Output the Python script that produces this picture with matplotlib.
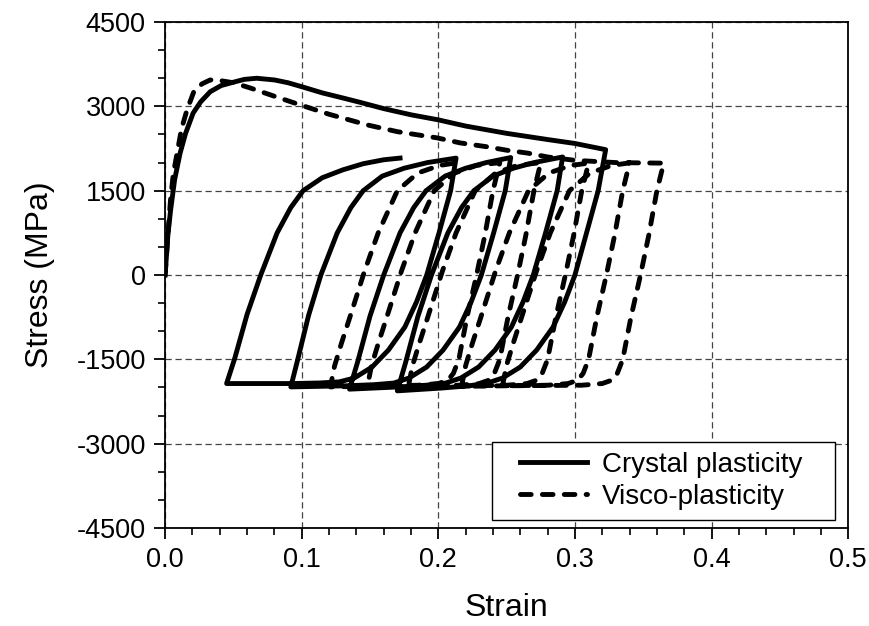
import matplotlib
matplotlib.use("Agg")
import matplotlib.pyplot as plt
from matplotlib.ticker import MultipleLocator, FormatStrFormatter
from matplotlib.patches import Rectangle

plt.rcParams['font.family'] = ['Liberation Sans', 'DejaVu Sans']
plt.rcParams['axes.unicode_minus'] = False

# crystal plasticity: monotonic loading then nested cycles (one path)
cp_strain = [0, 0.001, 0.002, 0.004, 0.007, 0.011, 0.015, 0.0205, 0.026, 0.033, 0.041, 0.05, 0.058, 0.067,
             0.08, 0.09, 0.1, 0.115, 0.13, 0.143, 0.16, 0.18, 0.2, 0.22, 0.25, 0.28, 0.3, 0.3225,
             0.317, 0.3085, 0.300, 0.2925, 0.284, 0.272, 0.260, 0.247, 0.236, 0.2225, 0.2025, 0.170,
             0.176, 0.185, 0.195, 0.207, 0.217, 0.226, 0.240, 0.255, 0.270, 0.291,
             0.287, 0.2785, 0.2695, 0.262, 0.2535, 0.2415, 0.2295, 0.2165, 0.2055, 0.191, 0.171, 0.135,
             0.141, 0.150, 0.160, 0.172, 0.182, 0.191, 0.205, 0.220, 0.235, 0.253,
             0.249, 0.2405, 0.2315, 0.224, 0.2155, 0.2035, 0.1915, 0.1785, 0.1675, 0.153, 0.133, 0.092,
             0.097, 0.105, 0.114, 0.126, 0.136, 0.145, 0.159, 0.175, 0.192, 0.213,
             0.209, 0.2005, 0.1915, 0.184, 0.1755, 0.1635, 0.1515, 0.1385, 0.1275, 0.113, 0.093, 0.07, 0.045,
             0.051, 0.060, 0.070, 0.082, 0.092, 0.101, 0.115, 0.130, 0.145, 0.16, 0.172]
cp_stress = [0, 350, 700, 1150, 1700, 2170, 2520, 2880, 3080, 3260, 3370, 3430, 3480, 3500,
             3470, 3420, 3350, 3240, 3150, 3070, 2960, 2850, 2760, 2650, 2520, 2410, 2340, 2230,
             1500, 750, 0, -480, -925, -1334, -1636, -1832, -1921, -1970, -2010, -2060,
             -1560, -740, 0, 750, 1200, 1500, 1760, 1900, 2000, 2100,
             1500, 750, 0, -480, -925, -1334, -1636, -1832, -1921, -1960, -1990, -2030,
             -1540, -730, 0, 750, 1200, 1500, 1760, 1900, 2000, 2090,
             1500, 750, 0, -480, -925, -1334, -1636, -1832, -1921, -1950, -1970, -1990,
             -1510, -720, 0, 750, 1200, 1500, 1760, 1900, 2000, 2080,
             1500, 750, 0, -480, -925, -1334, -1636, -1832, -1900, -1920, -1930, -1930, -1930,
             -1480, -700, 0, 750, 1200, 1500, 1730, 1870, 1980, 2050, 2080]

# visco-plasticity
vp_strain = [0, 0.001, 0.002, 0.004, 0.006, 0.0088, 0.012, 0.016, 0.021, 0.027, 0.033, 0.04, 0.05, 0.062,
             0.08, 0.099, 0.12, 0.148, 0.17, 0.199, 0.216, 0.236, 0.25, 0.265, 0.28, 0.3, 0.33, 0.365,
             0.360, 0.354, 0.348, 0.341, 0.335, 0.331, 0.327, 0.320, 0.305, 0.247,
             0.250, 0.255, 0.261, 0.267, 0.272, 0.282, 0.296, 0.311, 0.327, 0.340,
             0.335, 0.329, 0.323, 0.316, 0.310, 0.306, 0.302, 0.295, 0.280, 0.217,
             0.220, 0.225, 0.231, 0.237, 0.242, 0.252, 0.266, 0.281, 0.297, 0.310,
             0.305, 0.299, 0.293, 0.286, 0.280, 0.276, 0.272, 0.265, 0.250, 0.178,
             0.181, 0.186, 0.192, 0.198, 0.203, 0.213, 0.227, 0.242, 0.258, 0.275,
             0.270, 0.264, 0.258, 0.251, 0.245, 0.241, 0.237, 0.230, 0.215, 0.148,
             0.151, 0.156, 0.162, 0.168, 0.173, 0.183, 0.197, 0.212, 0.228, 0.245,
             0.240, 0.234, 0.228, 0.221, 0.215, 0.211, 0.207, 0.200, 0.185, 0.121,
             0.124, 0.129, 0.135, 0.141, 0.146, 0.156, 0.170, 0.185, 0.201, 0.212]
vp_stress = [0, 350, 700, 1350, 1800, 2170, 2600, 2935, 3260, 3400, 3470, 3460, 3420, 3330,
             3180, 3025, 2860, 2670, 2550, 2440, 2350, 2280, 2220, 2170, 2100, 2040, 2000, 1990,
             1500, 700, 0, -750, -1500, -1750, -1870, -1930, -1960, -1970,
             -1600, -1200, -750, -300, 80, 750, 1500, 1815, 1950, 1995,
             1500, 700, 0, -750, -1500, -1750, -1870, -1930, -1960, -1980,
             -1610, -1210, -760, -300, 80, 750, 1500, 1815, 1950, 1990,
             1500, 700, 0, -750, -1500, -1750, -1870, -1930, -1960, -1990,
             -1620, -1220, -770, -310, 70, 750, 1500, 1815, 1950, 2000,
             1500, 700, 0, -750, -1500, -1750, -1870, -1930, -1960, -1990,
             -1620, -1220, -770, -310, 70, 750, 1500, 1815, 1950, 2000,
             1500, 700, 0, -750, -1500, -1750, -1870, -1930, -1960, -1990,
             -1620, -1220, -770, -310, 70, 750, 1500, 1815, 1950, 1990]

fig = plt.figure(figsize=(8.69, 6.26), dpi=100)
ax = fig.add_axes([0.190, 0.1565, 0.786, 0.8083])

ax.plot(cp_strain, cp_stress, color='black', lw=3.5, solid_joinstyle='round',
        label='Crystal plasticity')
ax.plot(vp_strain, vp_stress, color='black', lw=3.5, linestyle=(0, (2.2, 2.3)),
        dash_capstyle='round', label='Visco-plasticity')

ax.set_xlim(0, 0.5)
ax.set_ylim(-4500, 4500)
ax.xaxis.set_major_locator(MultipleLocator(0.1))
ax.xaxis.set_minor_locator(MultipleLocator(0.02))
ax.yaxis.set_major_locator(MultipleLocator(1500))
ax.yaxis.set_minor_locator(MultipleLocator(500))
ax.xaxis.set_major_formatter(FormatStrFormatter('%.1f'))
ax.yaxis.set_major_formatter(FormatStrFormatter('%d'))

ax.grid(True, which='major', color='#444444', linestyle=(0, (5, 3)), linewidth=0.9)
for s in ax.spines.values():
    s.set_linewidth(1.3)
ax.tick_params(which='major', direction='out', length=8, width=1.3, labelsize=19.5, pad=6)
ax.tick_params(which='minor', direction='out', length=5, width=1.2)

ax.set_xlabel('Strain', fontsize=23, labelpad=14)
ax.set_ylabel('Stress (MPa)', fontsize=23, labelpad=15)

# legend box drawn separately so the padding can match the original
ax.add_patch(Rectangle((0.479, 0.016), 0.502, 0.154, transform=ax.transAxes,
                       facecolor='white', edgecolor='black', lw=1.0, zorder=4))
leg = ax.legend(loc='center left', fontsize=20, frameon=False,
                handlelength=2.4, borderpad=0, borderaxespad=0,
                labelspacing=0.2, handletextpad=0.55,
                bbox_to_anchor=(0.52, 0.093))
leg.set_zorder(5)

fig.savefig('out.png', dpi=100)
